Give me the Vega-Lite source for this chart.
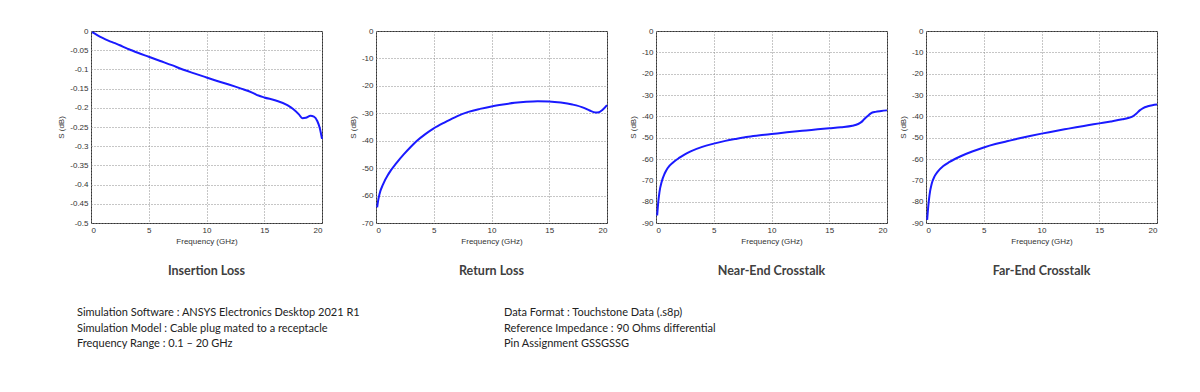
{
  "$schema": "https://vega.github.io/schema/vega-lite/v6.json",
  "background": "white",
  "padding": {"left": 57, "top": 26, "right": 5, "bottom": 5},
  "config": {
    "view": {"stroke": "#333", "strokeWidth": 1},
    "axis": {
      "labelFont": "Liberation Sans", "labelFontSize": 8, "labelColor": "#333",
      "titleFont": "Liberation Sans", "titleFontSize": 8, "titleFontWeight": "normal", "titleColor": "#333",
      "grid": true, "gridColor": "#8c8c8c", "gridDash": [1, 2], "gridWidth": 1,
      "domain": false, "ticks": false, "labelPadding": 3
    },
    "axisX": {"titlePadding": 3},
    "axisY": {"titlePadding": 4},
    "title": {"font": "Lato", "fontSize": 12.5, "fontWeight": "bold", "color": "#404040"},
    "line": {"color": "#1a1aff", "strokeWidth": 2, "interpolate": "monotone"}
  },
  "datasets": {
    "il": [
      {"f": 0.1, "s": -0.003}, {"f": 0.5, "s": -0.010}, {"f": 1, "s": -0.018}, {"f": 1.5, "s": -0.025},
      {"f": 2, "s": -0.031}, {"f": 2.5, "s": -0.037}, {"f": 3, "s": -0.044}, {"f": 3.5, "s": -0.050},
      {"f": 4, "s": -0.056}, {"f": 5, "s": -0.067}, {"f": 6, "s": -0.078}, {"f": 7, "s": -0.089},
      {"f": 8, "s": -0.101}, {"f": 9, "s": -0.111}, {"f": 10, "s": -0.121}, {"f": 11, "s": -0.131},
      {"f": 12, "s": -0.140}, {"f": 13, "s": -0.150}, {"f": 14, "s": -0.161}, {"f": 14.5, "s": -0.168},
      {"f": 15, "s": -0.173}, {"f": 16, "s": -0.181}, {"f": 17, "s": -0.193}, {"f": 17.5, "s": -0.203},
      {"f": 18, "s": -0.217}, {"f": 18.3, "s": -0.227}, {"f": 18.6, "s": -0.226}, {"f": 19, "s": -0.221},
      {"f": 19.3, "s": -0.223}, {"f": 19.6, "s": -0.235}, {"f": 19.8, "s": -0.252}, {"f": 20, "s": -0.281}
    ],
    "rl": [
      {"f": 0.1, "s": -64.3}, {"f": 0.2, "s": -61.5}, {"f": 0.3, "s": -59.5}, {"f": 0.6, "s": -56}, {"f": 1.1, "s": -52},
      {"f": 1.8, "s": -48}, {"f": 2.4, "s": -45}, {"f": 3, "s": -42.3}, {"f": 3.5, "s": -40.2}, {"f": 4.3, "s": -37.5},
      {"f": 5, "s": -35.5}, {"f": 6, "s": -33.2}, {"f": 7, "s": -31.1}, {"f": 8, "s": -29.5}, {"f": 9, "s": -28.4},
      {"f": 10, "s": -27.5}, {"f": 11, "s": -26.8}, {"f": 12, "s": -26.2}, {"f": 13, "s": -25.8}, {"f": 14, "s": -25.6},
      {"f": 15, "s": -25.7}, {"f": 16, "s": -26.1}, {"f": 17, "s": -26.8}, {"f": 18, "s": -28.0}, {"f": 18.5, "s": -29.0},
      {"f": 19, "s": -29.7}, {"f": 19.3, "s": -29.6}, {"f": 19.6, "s": -28.8}, {"f": 20, "s": -27.0}
    ],
    "next": [
      {"f": 0.1, "s": -86.5}, {"f": 0.2, "s": -80}, {"f": 0.3, "s": -75.5}, {"f": 0.5, "s": -70.5}, {"f": 0.75, "s": -66.8},
      {"f": 1, "s": -64.3}, {"f": 1.5, "s": -61.5}, {"f": 2, "s": -59.5}, {"f": 2.5, "s": -57.8}, {"f": 3, "s": -56.4},
      {"f": 4, "s": -54.3}, {"f": 5, "s": -52.8}, {"f": 6, "s": -51.5}, {"f": 7, "s": -50.5}, {"f": 8, "s": -49.6},
      {"f": 9, "s": -48.9}, {"f": 10, "s": -48.3}, {"f": 11, "s": -47.7}, {"f": 12, "s": -47.1}, {"f": 13, "s": -46.6},
      {"f": 14, "s": -46.1}, {"f": 15, "s": -45.6}, {"f": 16, "s": -45.1}, {"f": 17, "s": -44.4}, {"f": 17.5, "s": -43.6},
      {"f": 17.8, "s": -42.6}, {"f": 18, "s": -41.5}, {"f": 18.3, "s": -40.0}, {"f": 18.6, "s": -38.6}, {"f": 19, "s": -37.9},
      {"f": 19.5, "s": -37.5}, {"f": 20, "s": -37.2}
    ],
    "fext": [
      {"f": 0.1, "s": -88.5}, {"f": 0.2, "s": -82}, {"f": 0.3, "s": -77}, {"f": 0.5, "s": -71.5}, {"f": 0.75, "s": -68},
      {"f": 1, "s": -66}, {"f": 1.5, "s": -63.3}, {"f": 2, "s": -61.5}, {"f": 2.5, "s": -60}, {"f": 3, "s": -58.7},
      {"f": 4, "s": -56.5}, {"f": 5, "s": -54.6}, {"f": 6, "s": -53}, {"f": 7, "s": -51.7}, {"f": 8, "s": -50.4},
      {"f": 9, "s": -49.2}, {"f": 10, "s": -48.1}, {"f": 11, "s": -47.1}, {"f": 12, "s": -46.1}, {"f": 13, "s": -45.1},
      {"f": 14, "s": -44.2}, {"f": 15, "s": -43.3}, {"f": 16, "s": -42.4}, {"f": 17, "s": -41.4}, {"f": 17.5, "s": -40.8},
      {"f": 17.9, "s": -40}, {"f": 18.2, "s": -38.8}, {"f": 18.5, "s": -37.2}, {"f": 18.8, "s": -36.1}, {"f": 19.2, "s": -35.3},
      {"f": 19.6, "s": -34.8}, {"f": 20, "s": -34.5}
    ],
    "notes": [
      {"col": "a", "line": 0, "text": "Simulation Software : ANSYS Electronics Desktop 2021 R1"},
      {"col": "a", "line": 1, "text": "Simulation Model : Cable plug mated to a receptacle"},
      {"col": "a", "line": 2, "text": "Frequency Range : 0.1 – 20 GHz"},
      {"col": "b", "line": 0, "text": "Data Format : Touchstone Data (.s8p)"},
      {"col": "b", "line": 1, "text": "Reference Impedance : 90 Ohms differential"},
      {"col": "b", "line": 2, "text": "Pin Assignment GSSGSSG"}
    ]
  },
  "spacing": 29,
  "vconcat": [
    {
      "bounds": "flush",
      "spacing": 54,
      "hconcat": [
        {
          "width": 231, "height": 192,
          "title": {"text": "Insertion Loss", "orient": "bottom", "offset": 20},
          "data": {"name": "il"},
          "mark": {"type": "line"},
          "encoding": {
            "x": {"field": "f", "type": "quantitative", "scale": {"domain": [0, 20], "nice": false},
                  "axis": {"values": [0, 5, 10, 15, 20], "title": "Frequency (GHz)"}},
            "y": {"field": "s", "type": "quantitative", "scale": {"domain": [-0.5, 0], "nice": false},
                  "axis": {"values": [0, -0.05, -0.1, -0.15, -0.2, -0.25, -0.3, -0.35, -0.4, -0.45, -0.5],
                           "labelExpr": "'' + datum.value", "title": "S (dB)"}}
          }
        },
        {
          "bounds": "flush",
          "spacing": 49,
          "hconcat": [
            {
              "width": 231, "height": 192,
              "title": {"text": "Return Loss", "orient": "bottom", "offset": 20},
              "data": {"name": "rl"},
              "mark": {"type": "line"},
              "encoding": {
                "x": {"field": "f", "type": "quantitative", "scale": {"domain": [0, 20], "nice": false},
                      "axis": {"values": [0, 5, 10, 15, 20], "title": "Frequency (GHz)"}},
                "y": {"field": "s", "type": "quantitative", "scale": {"domain": [-70, 0], "nice": false},
                      "axis": {"values": [0, -10, -20, -30, -40, -50, -60, -70],
                               "labelExpr": "'' + datum.value", "title": "S (dB)"}}
              }
            },
            {
              "bounds": "flush",
              "spacing": 39,
              "hconcat": [
                {
                  "width": 231, "height": 192,
                  "title": {"text": "Near-End Crosstalk", "orient": "bottom", "offset": 20},
                  "data": {"name": "next"},
                  "mark": {"type": "line"},
                  "encoding": {
                    "x": {"field": "f", "type": "quantitative", "scale": {"domain": [0, 20], "nice": false},
                          "axis": {"values": [0, 5, 10, 15, 20], "title": "Frequency (GHz)"}},
                    "y": {"field": "s", "type": "quantitative", "scale": {"domain": [-90, 0], "nice": false},
                          "axis": {"values": [0, -10, -20, -30, -40, -50, -60, -70, -80, -90],
                                   "labelExpr": "'' + datum.value", "title": "S (dB)"}}
                  }
                },
                {
                  "width": 231, "height": 192,
                  "title": {"text": "Far-End Crosstalk", "orient": "bottom", "offset": 20},
                  "data": {"name": "fext"},
                  "mark": {"type": "line"},
                  "encoding": {
                    "x": {"field": "f", "type": "quantitative", "scale": {"domain": [0, 20], "nice": false},
                          "axis": {"values": [0, 5, 10, 15, 20], "title": "Frequency (GHz)"}},
                    "y": {"field": "s", "type": "quantitative", "scale": {"domain": [-90, 0], "nice": false},
                          "axis": {"values": [0, -10, -20, -30, -40, -50, -60, -70, -80, -90],
                                   "labelExpr": "'' + datum.value", "title": "S (dB)"}}
                  }
                }
              ]
            }
          ]
        }
      ]
    },
    {
      "width": 427, "height": 31,
      "view": {"stroke": null},
      "data": {"name": "notes"},
      "mark": {"type": "text", "align": "left", "baseline": "middle", "font": "Lato", "fontSize": 11, "color": "#222", "dx": -14},
      "encoding": {
        "x": {"field": "col", "type": "nominal", "scale": {"type": "point", "padding": 0}, "axis": null},
        "y": {"field": "line", "type": "ordinal", "scale": {"type": "point", "padding": 0}, "axis": null},
        "text": {"field": "text"}
      }
    }
  ]
}
